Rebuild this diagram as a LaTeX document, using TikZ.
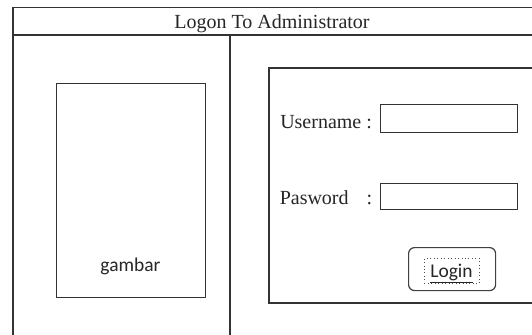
\documentclass[tikz,border=0pt]{standalone}
\usepackage{fontspec}
\setmainfont{Liberation Serif}
\newfontfamily\calib{Carlito}
\begin{document}
\begin{tikzpicture}[x=0.75pt,y=-0.75pt,
  frame/.style={draw=black!80, line width=0.9pt},
  field/.style={draw=black!80, line width=0.9pt, fill=white},
  lbl/.style={font=\fontsize{15}{18}\selectfont, text=black!85, inner sep=0pt},
  sanslbl/.style={font=\calib\fontsize{14.6}{17}\selectfont, text=black!85, inner sep=0pt}]
\useasboundingbox[fill=white] (0,0) rectangle (532,335);
% outer frame (cut off on the right and bottom)
\coordinate (tl) at (13,7.5);
\coordinate (tr) at (532,7.5);
\coordinate (bl) at (13,335);
\coordinate (hl) at (13,35);
\coordinate (hr) at (532,35);
\coordinate (dt) at (230,35);
\coordinate (db) at (230,335);
\draw[frame] (bl) -- (tl) -- (tr);
\draw[frame] (hl) -- (hr);
\draw[frame] (dt) -- (db);
\node[lbl, anchor=base] (title) at (272,29) {Logon To Administrator};
% picture placeholder
\node[frame, minimum width=149*0.75pt, minimum height=214*0.75pt, inner sep=0pt, anchor=north west] (pic) at (56,83) {};
\node[sanslbl, anchor=base] (gambar) at (130.5,271) {gambar};
% login panel (cut off on the right)
\coordinate (pt) at (269,68);
\coordinate (ptr) at (532,68);
\coordinate (pb) at (269,303);
\coordinate (pbr) at (532,303);
\draw[frame] (ptr) -- (pt) -- (pb) -- (pbr);
\node[lbl, anchor=base west] (user) at (280,128) {Username :};
\node[field, minimum width=137*0.75pt, minimum height=28*0.75pt, inner sep=0pt, anchor=north west] (userf) at (380,104) {};
\node[lbl, anchor=base west] (pass) at (279.5,204) {Pasword};
\node[lbl, anchor=base] (colon) at (369.5,204) {:};
\node[field, minimum width=137*0.75pt, minimum height=26*0.75pt, inner sep=0pt, anchor=north west] (passf) at (380,183) {};
% login button
\node[draw=black!75, line width=0.9pt, rounded corners=4.5pt, minimum width=87*0.75pt, minimum height=43*0.75pt, inner sep=0pt, anchor=north west] (btn) at (408,247) {};
\node[draw=black!70, dotted, line width=0.6pt, minimum width=55*0.75pt, minimum height=25*0.75pt, inner sep=0pt, anchor=north west] (focus) at (424,258) {};
\node[sanslbl, anchor=base] (login) at (451.5,277) {\underline{Login}};
\end{tikzpicture}
\end{document}
